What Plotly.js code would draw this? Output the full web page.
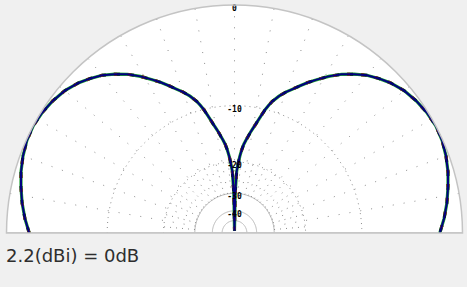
<!DOCTYPE html>
<html>
<head>
<meta charset="utf-8">
<script src="https://cdn.plot.ly/plotly-3.0.1.min.js"></script>
<style>html,body{margin:0;padding:0;background:#f0f0f0;}#chart{width:467px;height:287px;}</style>
</head>
<body>
<div id="chart"></div>
<script>
// Elevation pattern: angle from zenith (deg) and relative gain (dB)
const angles = [-90,-86,-82,-78,-74,-70,-66,-62,-58,-54,-50,-46,-43,-40,-37,-34,-31,-28,-26,-24,-22,-20,-18,-16,-15,-14,-13,-12,-11,-10,-9,-8,-7,-6,-5,-4,-3,-2,-1,0,
                1,2,3,4,5,6,7,8,9,10,11,12,13,14,15,16,18,20,22,24,26,28,31,34,37,40,43,46,50,54,58,62,66,70,74,78,82,86,90];
const gainDb = [-1.8,-1.4,-1.05,-0.75,-0.45,-0.22,-0.05,0,-0.08,-0.25,-0.5,-0.9,-1.3,-1.75,-2.35,-3.0,-3.8,-4.7,-5.3,-5.95,-6.6,-7.2,-7.9,-8.75,-9.35,-10.0,-10.8,-11.6,-12.4,-13.1,-13.8,-14.6,-15.3,-16.1,-17.2,-18.6,-20.3,-22.5,-30,-80,
                -30,-22.5,-20.3,-18.6,-17.2,-16.1,-15.3,-14.6,-13.8,-13.1,-12.4,-11.6,-10.8,-10.0,-9.35,-8.75,-7.9,-7.2,-6.6,-5.95,-5.3,-4.7,-3.8,-3.0,-2.35,-1.75,-1.3,-0.9,-0.5,-0.25,-0.08,0,-0.05,-0.22,-0.45,-0.75,-1.05,-1.4,-1.8];
const ringDb = [0,-10,-20,-30,-40,-50];
const labelDb = [0,-10,-20,-30,-40];
const labelText = ["0","-10","-20","-30","-40"];
const refText = "2.2(dBi) = 0dB";

// ARRL-style log-periodic radial scale: radius shrinks by 0.89 per 2 dB
const rr = db => Math.pow(0.89, -db / 2);
const rPat = gainDb.map(rr);

const traces = [];
function ring(db, dash, color) {
  const th = [], r = [];
  for (let a = -90; a <= 90; a += 1) { th.push(a); r.push(rr(db)); }
  traces.push({type:'scatterpolar', mode:'lines', theta:th, r:r, line:{color:color, width:1, dash:dash}, hoverinfo:'skip'});
}
ring(ringDb[1], '1px,4px', '#8c8c8c');
ring(ringDb[2], '1px,4px', '#8c8c8c');
ring(ringDb[3], 'solid', '#b4b4b4');
ring(ringDb[4], 'solid', '#b4b4b4');
ring(ringDb[5], 'solid', '#b4b4b4');
(function(){
  const th = [], r = [];
  for (let a = -80; a <= 80; a += 10) { th.push(a, a, null); r.push(rr(-30), 1, null); }
  traces.push({type:'scatterpolar', mode:'lines', theta:th, r:r, line:{color:'#8c8c8c', width:1, dash:'1px,10px'}, hoverinfo:'skip'});
  const th2 = [], r2 = [];
  for (let a = -85; a <= 85; a += 10) { th2.push(a, a, null); r2.push(rr(-30), rr(-20), null); }
  traces.push({type:'scatterpolar', mode:'lines', theta:th2, r:r2, line:{color:'#8c8c8c', width:1, dash:'1px,5px'}, hoverinfo:'skip'});
})();
traces.push({type:'scatterpolar', mode:'lines', theta:[-90,90], r:[1,1], line:{color:'#c4c4c4', width:1.5}, hoverinfo:'skip'});
// pattern (several overlapping traces)
traces.push({type:'scatterpolar', mode:'lines', theta:angles, r:rPat, line:{color:'#1fa030', width:3.2}, hoverinfo:'skip'});
traces.push({type:'scatterpolar', mode:'lines', theta:angles, r:rPat, line:{color:'#1a1a1a', width:3, dash:'6px,8px'}, hoverinfo:'skip'});
traces.push({type:'scatterpolar', mode:'lines', theta:angles, r:rPat, line:{color:'#8b3a1a', width:3, dash:'3px,11px'}, hoverinfo:'skip'});
traces.push({type:'scatterpolar', mode:'lines', theta:angles, r:rPat, line:{color:'#000080', width:2}, hoverinfo:'skip'});
traces.push({type:'scatterpolar', mode:'text', theta:labelDb.map(()=>0), r:labelDb.map(rr), text:labelText,
  textposition:'bottom center', textfont:{family:'DejaVu Sans Mono', size:8, color:'#000', weight:'bold'}, hoverinfo:'skip'});

const layout = {
  width:467, height:287,
  margin:{l:6, r:4, t:5, b:54},
  paper_bgcolor:'#f0f0f0',
  showlegend:false,
  polar:{
    sector:[0,180],
    bgcolor:'#ffffff',
    domain:{x:[0,1], y:[0,1]},
    radialaxis:{range:[0,1], visible:false, showgrid:false},
    angularaxis:{rotation:90, direction:'clockwise', showgrid:false, showticklabels:false, ticks:'',
                 showline:true, linecolor:'#c4c4c4', linewidth:1.5}
  },
  annotations:[{text:refText, xref:'paper', yref:'paper', x:-0.004, y:-0.097, xanchor:'left', yanchor:'middle',
    showarrow:false, font:{family:'DejaVu Sans', size:18, color:'#2e2e2e'}}]
};
Plotly.newPlot('chart', traces, layout, {staticPlot:true, displayModeBar:false});
</script>
</body>
</html>
